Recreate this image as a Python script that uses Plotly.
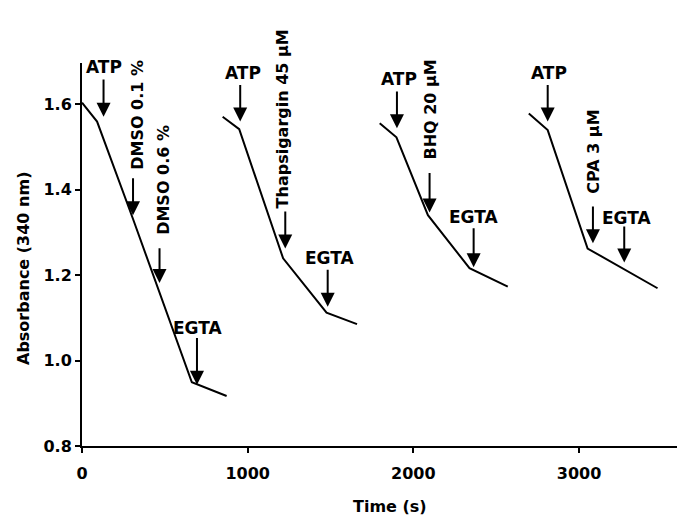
import plotly.graph_objects as go

# ---- data (time in s, absorbance at 340 nm) ----
t_dmso = [0, 91, 308, 468, 663, 873]
a_dmso = [1.603, 1.559, 1.331, 1.159, 0.949, 0.917]

t_tg = [849, 949, 1214, 1476, 1660]
a_tg = [1.570, 1.541, 1.239, 1.112, 1.085]

t_bhq = [1797, 1898, 2088, 2339, 2570]
a_bhq = [1.555, 1.522, 1.340, 1.216, 1.173]

t_cpa = [2697, 2811, 3052, 3263, 3474]
a_cpa = [1.578, 1.539, 1.262, 1.216, 1.169]

x_ticks = [0, 1000, 2000, 3000]
y_ticks = [0.8, 1.0, 1.2, 1.4, 1.6]

# ---- event markers: (label, arrow time, tail, tip, label x, label y, rotated) ----
events = [
    ("ATP", 130, 1.661, 1.570, 135, 1.687, False),
    ("DMSO 0.1 %", 308, 1.430, 1.340, 330, 1.574, True),
    ("DMSO 0.6 %", 468, 1.266, 1.181, 490, 1.423, True),
    ("EGTA", 694, 1.056, 0.943, 702, 1.076, False),
    ("ATP", 955, 1.648, 1.559, 972, 1.673, False),
    ("Thapsigargin 45 µM", 1227, 1.352, 1.262, 1210, 1.565, True),
    ("EGTA", 1483, 1.216, 1.126, 1498, 1.239, False),
    ("ATP", 1901, 1.633, 1.543, 1911, 1.658, False),
    ("BHQ 20 µM", 2098, 1.442, 1.346, 2104, 1.586, True),
    ("EGTA", 2364, 1.313, 1.218, 2364, 1.336, False),
    ("ATP", 2811, 1.648, 1.559, 2817, 1.673, False),
    ("CPA 3 µM", 3084, 1.364, 1.274, 3090, 1.488, True),
    ("EGTA", 3273, 1.317, 1.229, 3290, 1.333, False),
]

FONT = "DejaVu Sans"
W, H = 677, 515
L, R, T, B = 82, 0, 63, 69
pw, ph = W - L - R, H - T - B

fig = go.Figure()
for tx, ay in [(t_dmso, a_dmso), (t_tg, a_tg), (t_bhq, a_bhq), (t_cpa, a_cpa)]:
    fig.add_trace(go.Scatter(x=tx, y=ay, mode="lines",
                             line=dict(color="black", width=2),
                             showlegend=False, hoverinfo="skip"))

bold16 = dict(family=FONT, size=16, color="black", weight="bold")
bold17 = dict(family=FONT, size=17, color="black", weight="bold")
annotations = []
for label, tx, tail, tip, lx, ly, rot in events:
    annotations.append(dict(
        x=tx, y=tip, ax=tx, ay=tail, xref="x", yref="y", axref="x", ayref="y",
        text="", showarrow=True, arrowhead=2, arrowsize=1.4, arrowwidth=2,
        arrowcolor="black", standoff=0, startstandoff=0))
    annotations.append(dict(
        x=lx, y=ly, xref="x", yref="y", text=label, showarrow=False,
        textangle=-90 if rot else 0, font=bold16 if rot else bold17,
        xanchor="center", yanchor="middle"))

annotations.append(dict(x=(390 - L) / pw, y=(H - 506.7 - B) / ph,
                        xref="paper", yref="paper", text="Time (s)", showarrow=False,
                        xanchor="center", yanchor="middle", font=bold16))
annotations.append(dict(x=(23 - L) / pw, y=(H - 269 - B) / ph,
                        xref="paper", yref="paper", text="Absorbance (340 nm)",
                        showarrow=False, textangle=-90,
                        xanchor="center", yanchor="middle", font=bold16))

fig.update_layout(
    width=W, height=H,
    margin=dict(l=L, r=R, t=T, b=B, pad=0),
    plot_bgcolor="white", paper_bgcolor="white",
    annotations=annotations,
    xaxis=dict(range=[0, pw / 0.16567], tickvals=x_ticks, ticktext=[str(v) for v in x_ticks],
               showgrid=False, zeroline=False, showline=True, linecolor="black",
               linewidth=2, ticks="outside", ticklen=5, tickwidth=2, tickcolor="black",
               ticklabelstandoff=7, tickfont=bold16),
    yaxis=dict(range=[0.8, 0.8 + (446 - 63) / 427.5], tickvals=y_ticks,
               ticktext=[f"{v:.1f}" for v in y_ticks],
               showgrid=False, zeroline=False, showline=True, linecolor="black",
               linewidth=2, ticks="outside", ticklen=5, tickwidth=2, tickcolor="black",
               tickfont=bold16),
)

fig.write_html("out.html", config={"displayModeBar": False},
               post_script="document.body.style.margin='0';document.body.style.overflow='hidden';")
